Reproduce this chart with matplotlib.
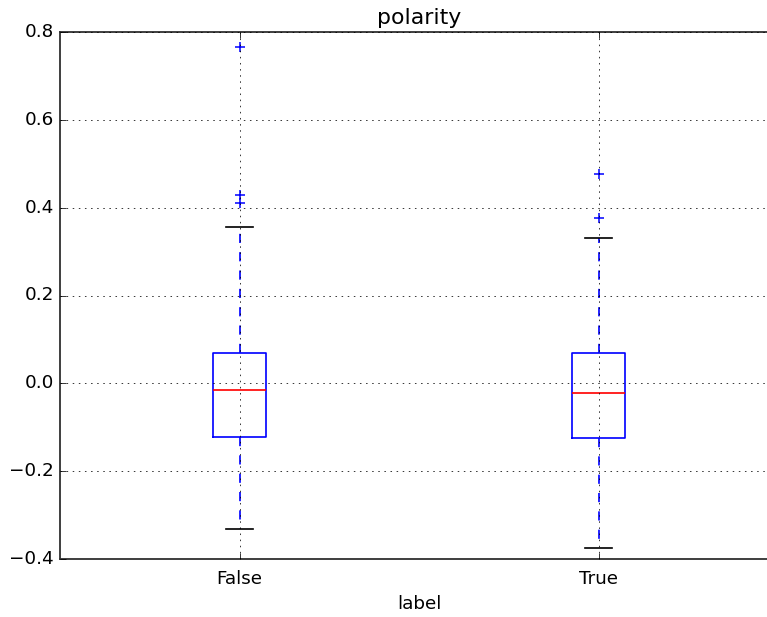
import matplotlib
matplotlib.use("Agg")
import matplotlib.pyplot as plt

plt.style.use("classic")

categories = ["False", "True"]
medians = [-0.015, -0.021]
q1 = [-0.122, -0.125]
q3 = [0.069, 0.069]
whisker_low = [-0.332, -0.375]
whisker_high = [0.356, 0.331]
outliers = [[0.766, 0.428, 0.41], [0.477, 0.376]]

stats = []
for i, c in enumerate(categories):
    stats.append(dict(label=c, med=medians[i], q1=q1[i], q3=q3[i],
                      whislo=whisker_low[i], whishi=whisker_high[i],
                      fliers=outliers[i]))

DPI = 110
fig = plt.figure(figsize=(767 / DPI, 617 / DPI), dpi=DPI, facecolor="white")
ax = fig.add_axes([60 / 767, 58 / 617, 718 / 767, 527 / 617])
ax.bxp(stats, positions=[1, 2], widths=0.15,
       boxprops=dict(color="b", linewidth=1.1),
       whiskerprops=dict(color="b", linestyle="--", linewidth=1.1),
       capprops=dict(color="k", linewidth=1.1),
       medianprops=dict(color="r", linewidth=1.1),
       flierprops=dict(marker="+", markeredgecolor="b", markerfacecolor="none",
                       linestyle="none", markersize=6))
ax.set_xlim(0.5, 2.5)
ax.set_ylim(-0.4, 0.8)
ax.grid(True, linestyle=":", color="k", linewidth=0.5)
ax.set_axisbelow(False)
for s in ax.spines.values():
    s.set_linewidth(1.2)
    s.set_color("#333333")
ax.set_title("polarity", fontsize=14.4)
ax.set_xlabel("label", fontsize=12, labelpad=5)
ax.tick_params(labelsize=12)
ax.tick_params(axis="x", pad=7)

fig.savefig("out.png", dpi=DPI, facecolor="white")
